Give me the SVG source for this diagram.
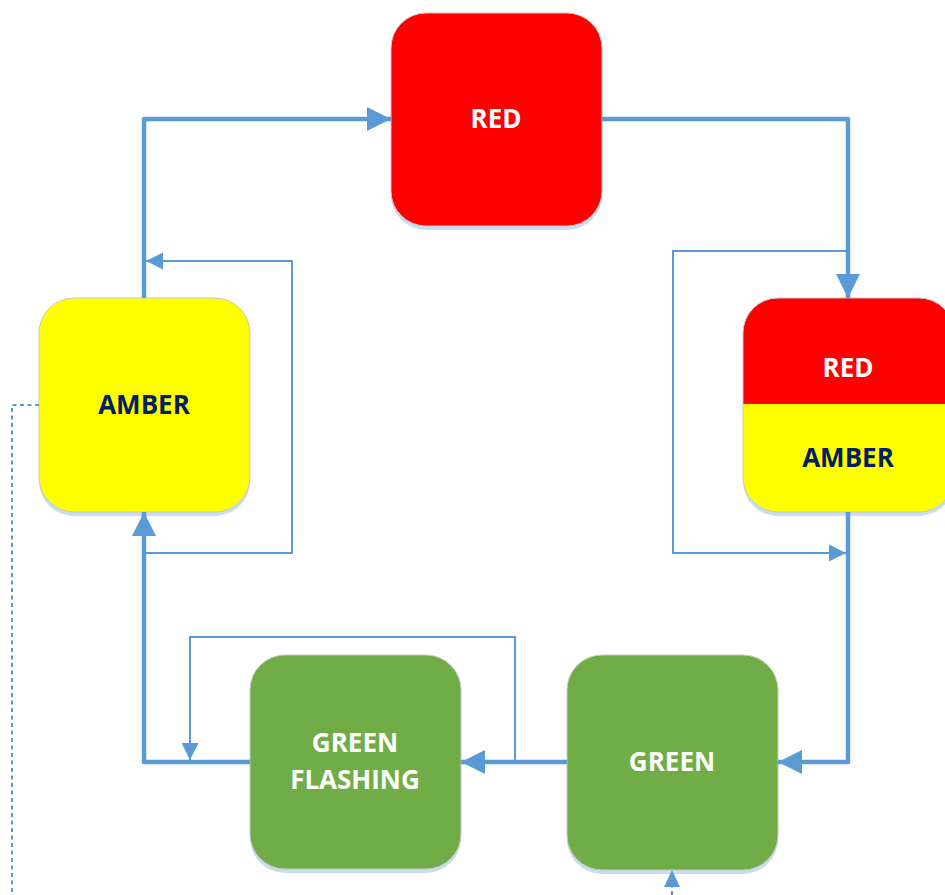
<svg xmlns="http://www.w3.org/2000/svg" width="945" height="895" viewBox="0 0 945 895">
<style>
.shadow{fill:#c9ddf1}
.node{stroke:#c8c8c8;stroke-width:1}
.lbl{font-family:"Open Sans","Noto Sans",sans-serif;font-weight:bold;font-size:26px;text-anchor:middle}
.w{fill:#ffffff}
.n{fill:#002060}
.thick{fill:none;stroke:#5b9bd5;stroke-width:4.5;stroke-linejoin:round}
.thin{fill:none;stroke:#5b9bd5;stroke-width:2;stroke-linejoin:miter}
.dot{fill:none;stroke:#5b9bd5;stroke-width:2;stroke-dasharray:4 3.5}
</style>
<defs>
<marker id="big" markerUnits="userSpaceOnUse" markerWidth="24" markerHeight="24" refX="24" refY="12" orient="auto">
<path d="M0,0 L24,12 L0,24 z" fill="#5b9bd5"/>
</marker>
<marker id="small" markerUnits="userSpaceOnUse" markerWidth="17" markerHeight="17" refX="17" refY="8.5" orient="auto">
<path d="M0,0 L17,8.5 L0,17 z" fill="#5b9bd5"/>
</marker>
<clipPath id="ra">
<rect x="743" y="298" width="211" height="214" rx="35" ry="35"/>
</clipPath>
</defs>

<g id="node-red">
<rect class="shadow" x="391" y="17" width="211" height="213" rx="35" ry="35"/>
<rect class="node" x="391" y="13" width="211" height="213" rx="35" ry="35" fill="#ff0000"/>
<text class="lbl w" x="496" y="128">RED</text>
</g>

<g id="node-amber">
<rect class="shadow" x="39" y="302" width="211" height="214" rx="35" ry="35"/>
<rect class="node" x="39" y="298" width="211" height="214" rx="35" ry="35" fill="#ffff00"/>
<text class="lbl n" x="144" y="414">AMBER</text>
</g>

<g id="node-red-amber">
<rect class="shadow" x="743" y="302" width="211" height="214" rx="35" ry="35"/>
<g clip-path="url(#ra)">
<rect x="743" y="298" width="211" height="106" fill="#ff0000"/>
<rect x="743" y="404" width="211" height="108" fill="#ffff00"/>
</g>
<rect class="node" x="743" y="298" width="211" height="214" rx="35" ry="35" fill="none"/>
<text class="lbl w" x="848" y="377">RED</text>
<text class="lbl n" x="848" y="467">AMBER</text>
</g>

<g id="node-green">
<rect class="shadow" x="567" y="659" width="211" height="215" rx="35" ry="35"/>
<rect class="node" x="567" y="655" width="211" height="215" rx="35" ry="35" fill="#70ad47"/>
<text class="lbl w" x="672" y="771">GREEN</text>
</g>

<g id="node-green-flashing">
<rect class="shadow" x="250" y="659" width="211" height="214" rx="35" ry="35"/>
<rect class="node" x="250" y="655" width="211" height="214" rx="35" ry="35" fill="#70ad47"/>
<text class="lbl w" x="355" y="752">GREEN</text>
<text class="lbl w" x="355" y="789">FLASHING</text>
</g>

<g id="connectors">
<path class="thick" d="M144,298 V119 H391" marker-end="url(#big)"/>
<path class="thick" d="M602,119 H848 V298" marker-end="url(#big)"/>
<path class="thick" d="M848,512 V762 H778" marker-end="url(#big)"/>
<path class="thick" d="M567,762 H461" marker-end="url(#big)"/>
<path class="thick" d="M250,762 H144 V512" marker-end="url(#big)"/>
<path class="thin" d="M144,553 H292 V261 H146" marker-end="url(#small)"/>
<path class="thin" d="M848,251 H673 V553 H846" marker-end="url(#small)"/>
<path class="thin" d="M515,762 V637 H190 V760" marker-end="url(#small)"/>
<path class="dot" d="M39,405 H12 V895"/>
<path class="dot" d="M672,895 V885"/>
<path d="M672,870 L680,887 L664,887 z" fill="#5b9bd5"/>
</g>
</svg>
